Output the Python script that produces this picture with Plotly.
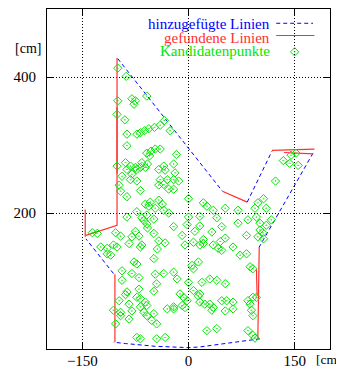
import plotly.graph_objects as go

# ---------------- data (cm) ----------------
pt_x = [
    -100, -88, -100, -80, -75, -77, -59, -101, -90, -87, -87, -73, -68, -62, -56, -48, -40, -34, -26,
    -59, -53, -47, -55, -17, -101, -89, -82, -75, -68, -61, -35, -33, -21, -94, -82, -73, -40, -30,
    -21, -14, 134, 143, 152, 155, 145, 123,
    -98, -68, -42, -35, -21, 0, 21, 26, 35, 106, 110, 94, 52, 70, -87,
    -73, -54, -42, -59, -63, -59, -47, -35, -87, -21, 0, 70, 96, 101, 110, 117,
    -49, -80, -129, -124, -115, -106, -101, -66, -68, -84, -9, -5, 7, 16, 21, 33, 47, 42, 47, 63,
    82, 98, 106, 101,
    -115, -110, -77, -73, -49, 5, 14, 7, 73, 82, 87, 91,
    -94, -80, -94, -35, -21, -45, 19, 30, 40, 52, -87, -89, -73, -68, -61, -59, -12, -7, -2, -21,
    -9, 7, 16, 30, 47, 63, 63, 84, 91,
    -106, -96, -84, -103, -68, -63, -59, -49, -52, -45, -30, -21, -5, 33, 35, 89, 91, 96, 40, 26,
    -73, -68, -45, -33, 84, 91, 94,
    -28, -96, -37, -61, -56, -49, -66, -58, -28, -2, 9, 16, -103, -96, -75, -70, -42, -33, -40,
    -66, -58, -80, -87, -73, -42, -19,
    16, 40, 98, 84, 105, 21, 45, 52, 35,
    16, 23, 54, 52, 87,
    -44, -70, -47, -16, -49, -70, 0, -84, -98, -80, -96, 14,
    -136,
]
pt_y = [
    413, 401, 365, 368, 365, 360, 372, 345, 337, 316, 299, 316, 318, 321, 324, 326, 329, 336, 321,
    288, 291, 294, 284, 286, 269, 274, 269, 267, 267, 267, 269, 263, 272, 254, 249, 247, 249, 249,
    249, 247, 277, 273, 288, 270, 285, 247,
    241, 233, 241, 242, 235, 221, 215, 210, 204, 221, 207, 207, 207, 204, 224,
    202, 216, 219, 197, 189, 184, 207, 204, 194, 180, 194, 185, 194, 185, 182, 190,
    170, 165, 170, 150, 148, 153, 150, 153, 150, 155, 167, 153, 157, 153, 155, 172, 180, 148, 145, 150,
    167, 165, 162, 175,
    140, 138, 128, 125, 133, 123, 128, 118, 138, 140, 121, 118,
    115, 111, 101, 111, 113, 96, 98, 103, 101, 96, 84, 80, 76, 74, 69, 64, 81, 76, 71, 62,
    64, 86, 69, 66, 71, 69, 59, 71, 76,
    57, 54, 44, 37, 62, 54, 49, 52, 42, 37, 59, 59, 61, 57, 61, 57, 49, 76, 30, 27,
    17, 15, 15, 17, 27, 20, 16,
    235, 232, 213, 213, 210, 191, 193, 178, 200, 183, 173, 181, 171, 166, 173, 166, 159, 156, 294,
    274, 272, 257, 264, 264, 264, 259,
    195, 193, 215, 190, 171, 161, 158, 163, 153,
    81, 66, 71, 56, 66,
    147, 105, 110, 103, 85, 88, 98, 66, 71, 56, 49, 78,
    171,
]

# detected line segments (None separates segments)
red_x = [-145, -101, -101, None, -101, -101, None, -146, -146, None, -104, -104, None,
         48, 83, None, 118, 178, None, 135, 176, None, 100, 98, None, 96, 97]
red_y = [167, 182, 428, None, 258, 356, None, 165, 205, None, 10, 110, None,
         232, 216, None, 292, 294, None, 289, 287, None, 150, 15, None, 118, 78]

# added (closing) line segments
blue_x = [-100, 48, None, 83, 118, None, 176, 100, None,
          101, 87, 59, 16, 0, -47, -89, -106, None, -106, -145]
blue_y = [427, 232, None, 216, 291, None, 288, 150, None,
          15, 13, 9, 3, 2, 4, 8, 10, None, 111, 162]

x_ticks = [-150, 0, 150]
x_ticktext = ["\u2212150", "0", "150"]
y_ticks = [200, 400]
y_ticktext = ["200", "400"]

legend_names = ["hinzugefügte Linien", "gefundene Linien", "Kandidatenpunkte"]

# ---------------- style ----------------
FONT = "Liberation Serif"
FS = 15
BLUE = "#0000ff"
RED = "#ff3030"
GREEN = "#00e600"

fig = go.Figure()

fig.add_trace(go.Scatter(x=blue_x, y=blue_y, mode="lines",
                         line=dict(color=BLUE, width=1, dash="4px,3px"),
                         hoverinfo="skip", showlegend=False))
fig.add_trace(go.Scatter(x=red_x, y=red_y, mode="lines",
                         line=dict(color=RED, width=1.2),
                         hoverinfo="skip", showlegend=False))
fig.add_trace(go.Scatter(x=pt_x, y=pt_y, mode="markers",
                         marker=dict(symbol="diamond-open-dot", size=6.4,
                                     color=GREEN, line=dict(color=GREEN, width=1)),
                         showlegend=False))

# gnuplot-style key (text right-aligned, sample on the right)
key_y = [478, 458, 438]
key_colors = [BLUE, RED, GREEN]
for name, yy, col in zip(legend_names, key_y, key_colors):
    fig.add_annotation(x=116, y=yy, xref="x", yref="y", text=name, showarrow=False,
                       xanchor="right", yanchor="middle", borderpad=0,
                       font=dict(family=FONT, size=FS, color=col))
fig.add_trace(go.Scatter(x=[124, 176], y=[479, 479], mode="lines",
                         line=dict(color=BLUE, width=1, dash="4px,3px"),
                         hoverinfo="skip", showlegend=False))
fig.add_trace(go.Scatter(x=[124, 178], y=[461, 461], mode="lines",
                         line=dict(color=RED, width=1.2),
                         hoverinfo="skip", showlegend=False))
fig.add_trace(go.Scatter(x=[150], y=[437], mode="markers",
                         marker=dict(symbol="diamond-open-dot", size=6.4,
                                     color=GREEN, line=dict(color=GREEN, width=1)),
                         hoverinfo="skip", showlegend=False))

# unit labels
fig.add_annotation(x=-0.118, y=0.884, xref="paper", yref="paper", text="[cm]",
                   showarrow=False, xanchor="left", yanchor="middle", borderpad=0,
                   font=dict(family=FONT, size=14, color="black"))
fig.add_annotation(x=0.948, y=-0.03, xref="paper", yref="paper", text="[cm]",
                   showarrow=False, xanchor="left", yanchor="middle", borderpad=0,
                   font=dict(family=FONT, size=13.5, color="black"))

axis_common = dict(showgrid=True, gridcolor="black", gridwidth=1, griddash="1px,2px",
                   showline=True, linecolor="black", linewidth=1, mirror="ticks",
                   ticks="inside", ticklen=6, tickcolor="black", tickwidth=1,
                   zeroline=False, automargin=False,
                   tickfont=dict(family=FONT, size=FS, color="black"))

fig.update_xaxes(range=[-200, 200], tickmode="array", tickvals=x_ticks,
                 ticktext=x_ticktext, ticklabelstandoff=-2, **axis_common)
fig.update_yaxes(range=[0, 500], tickmode="array", tickvals=y_ticks,
                 ticktext=y_ticktext, ticklabelstandoff=7, **axis_common)

# page body has an 8px default margin: figure is 336x360 so it fits the 344x368 window
fig.update_layout(width=336, height=360, autosize=False,
                  margin=dict(l=39, r=14, t=1, b=19, pad=0),
                  plot_bgcolor="white", paper_bgcolor="white",
                  showlegend=False,
                  font=dict(family=FONT, size=FS, color="black"))

fig.write_html("out.html")
